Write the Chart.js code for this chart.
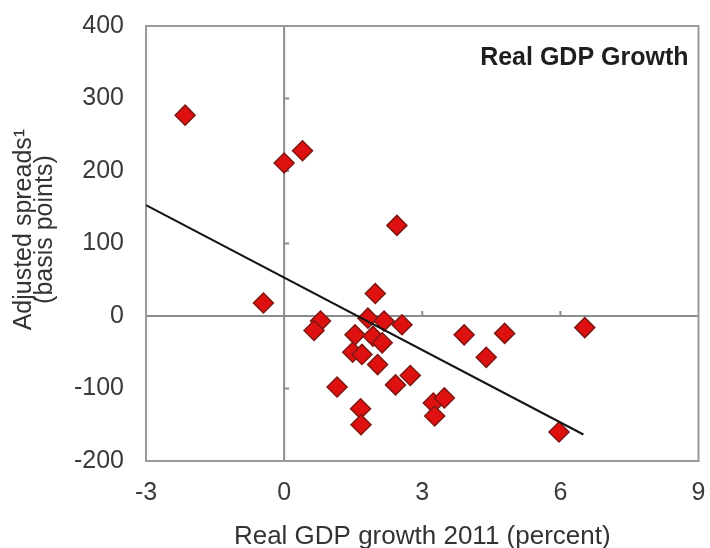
<!DOCTYPE html>
<html>
<head>
<meta charset="utf-8">
<script src="https://cdn.jsdelivr.net/npm/chart.js@4/dist/chart.umd.min.js"></script>
<style>
  html, body { margin: 0; padding: 0; background: #fff; }
  #wrap { width: 710px; height: 548px; }
</style>
</head>
<body>
<div id="wrap"><canvas id="grafico" width="710" height="548"></canvas></div>
<script>
// Real GDP growth in 2011 (percent) against adjusted spreads (basis points)
const crescimento = [-2.15, 0.0, 0.4, 2.45, -0.45, 0.79, 0.65, 1.98, 1.82, 2.17,
                     2.56, 1.54, 1.93, 2.13, 1.49, 1.69, 2.03, 1.15, 2.42, 2.74,
                     1.66, 1.67, 3.24, 3.48, 3.27, 3.91, 4.79, 4.39, 6.53, 5.97];
const spreads = [277, 211, 228, 125, 18, -7, -20, 31, -3, -7,
                 -12, -26, -28, -37, -50, -53, -67, -98, -95, -82,
                 -128, -150, -120, -113, -138, -26, -24, -57, -16, -160];

// fitted line: ends of the segment and its coefficients
const ajusteX = [-3, 6.5];
const ajusteIntercepto = 53;
const ajusteInclinacao = -33.3;

const xTicks = [-3, 0, 3, 6, 9];
const yTicks = [-200, -100, 0, 100, 200, 300, 400];

const pontos = crescimento.map((x, i) => ({ x: x, y: spreads[i] }));
const reta = ajusteX.map(x => ({ x: x, y: ajusteIntercepto + ajusteInclinacao * x }));

const fonte = '"Liberation Sans", Arial, sans-serif';

// frame around the plot plus the zero axes with their small tick marks
const eixosZero = {
    id: 'eixosZero',
    beforeDatasetsDraw(chart) {
        const { ctx, chartArea: a, scales: { x, y } } = chart;
        const x0 = x.getPixelForValue(0);
        const y0 = y.getPixelForValue(0);
        ctx.save();
        ctx.strokeStyle = '#8c8c8c';
        ctx.lineWidth = 2;
        ctx.beginPath();
        ctx.moveTo(x0, a.top); ctx.lineTo(x0, a.bottom);
        ctx.moveTo(a.left, y0); ctx.lineTo(a.right, y0);
        yTicks.slice(1, -1).forEach(v => {
            if (v === 0) return;
            const py = y.getPixelForValue(v);
            ctx.moveTo(x0, py); ctx.lineTo(x0 + 5, py);
        });
        xTicks.slice(1, -1).forEach(v => {
            if (v === 0) return;
            const px = x.getPixelForValue(v);
            ctx.moveTo(px, y0); ctx.lineTo(px, y0 - 5);
        });
        ctx.stroke();
        ctx.strokeStyle = '#9a9a9a';
        ctx.strokeRect(a.left, a.top, a.right - a.left, a.bottom - a.top);
        ctx.restore();
    },
    afterDraw(chart) {
        const { ctx, chartArea: a } = chart;
        ctx.save();
        ctx.font = 'bold 25px ' + fonte;
        ctx.fillStyle = '#1e1e1e';
        ctx.textAlign = 'right';
        ctx.textBaseline = 'alphabetic';
        ctx.fillText('Real GDP Growth', a.right - 10, a.top + 39);
        ctx.restore();
    }
};

new Chart(document.getElementById('grafico'), {
    type: 'scatter',
    data: {
        datasets: [
            {
                type: 'line',
                data: reta,
                borderColor: '#141414',
                borderWidth: 2,
                pointRadius: 0,
                fill: false,
                order: 0
            },
            {
                data: pontos,
                pointStyle: 'rectRot',
                pointRadius: 10,
                backgroundColor: '#de1010',
                borderColor: '#7e1812',
                borderWidth: 1.5,
                order: 1
            }
        ]
    },
    options: {
        responsive: false,
        animation: false,
        layout: { padding: { top: 26, right: 10, left: 0, bottom: 0 } },
        plugins: { legend: { display: false }, tooltip: { enabled: false } },
        scales: {
            x: {
                type: 'linear',
                min: -3, max: 9,
                afterBuildTicks: s => { s.ticks = xTicks.map(v => ({ value: v })); },
                afterFit: s => { s.height = 87; s.paddingLeft = 0; s.paddingRight = 0; },
                grid: { display: false, drawTicks: false },
                border: { display: false },
                ticks: {
                    padding: 20,
                    color: '#3a3a3a',
                    font: { family: fonte, size: 25, lineHeight: 1 },
                    maxRotation: 0
                },
                title: {
                    display: true,
                    text: 'Real GDP growth 2011 (percent)',
                    color: '#333',
                    padding: 0,
                    font: { family: fonte, size: 26, lineHeight: 0.85 }
                }
            },
            y: {
                type: 'linear',
                min: -200, max: 400,
                afterBuildTicks: s => { s.ticks = yTicks.map(v => ({ value: v })); },
                afterFit: s => { s.width = 146; s.paddingTop = 0; s.paddingBottom = 0; },
                grid: { display: false, drawTicks: false },
                border: { display: false },
                ticks: {
                    padding: 22,
                    color: '#3a3a3a',
                    font: { family: fonte, size: 25, lineHeight: 1 }
                },
                title: {
                    display: true,
                    text: ['    Adjusted spreads\u00b9', '    (basis points)'],
                    color: '#333',
                    padding: { top: 13, bottom: 0 },
                    font: { family: fonte, size: 25, lineHeight: 0.86 }
                }
            }
        }
    },
    plugins: [eixosZero]
});
</script>
</body>
</html>
